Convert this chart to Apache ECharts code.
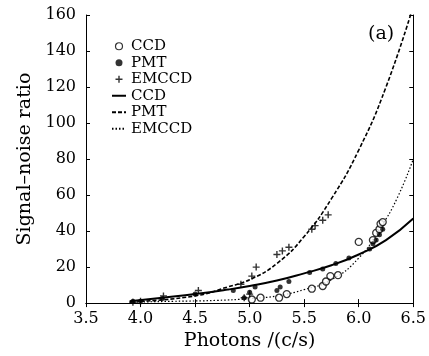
<!DOCTYPE html>
<html>
<head>
<meta charset="utf-8">
<script src="https://cdn.jsdelivr.net/npm/echarts@6/dist/echarts.min.js"></script>
<style>
  html, body { margin: 0; padding: 0; background: #fff; }
  #chart { width: 429px; height: 356px; }
</style>
</head>
<body>
<div id="chart"></div>
<script>
// measured points, [photons, snr]
var ccdPts = [[5.02, 2], [5.1, 3], [5.27, 3], [5.34, 5], [5.57, 8], [5.67, 9.5], [5.7, 12],
  [5.74, 15], [5.81, 15.5], [6.0, 34], [6.13, 35], [6.16, 39], [6.19, 41], [6.2, 44], [6.22, 45]];
var pmtPts = [[3.93, 1], [4.0, 1], [4.2, 2.5], [4.5, 5], [4.85, 7], [4.95, 3], [5.0, 6], [5.05, 9],
  [5.25, 7], [5.28, 9], [5.36, 12], [5.55, 17], [5.67, 19], [5.79, 22], [5.91, 25],
  [6.1, 30], [6.13, 33], [6.16, 35], [6.19, 38], [6.22, 41]];
var emccdPts = [[3.93, 0.5], [4.0, 1], [4.21, 4], [4.53, 7], [4.92, 10.5], [4.95, 3], [5.0, 5],
  [5.02, 15], [5.06, 20], [5.25, 27], [5.3, 29], [5.36, 31], [5.57, 41], [5.6, 43],
  [5.67, 46], [5.72, 49]];

// fitted curves
var ccdFit = [[3.9, 1], [4.2, 3], [4.5, 5], [4.8, 7.5], [5.0, 9.5], [5.25, 12.5], [5.5, 16.5],
  [5.75, 21], [6.0, 27], [6.25, 35], [6.5, 47]];
var pmtFit = [[4.0, 1], [4.5, 4], [4.8, 9], [5.0, 13], [5.25, 22], [5.5, 37], [5.75, 58],
  [6.0, 85], [6.25, 120], [6.5, 165]];
var emccdFit = [[3.9, 0.5], [4.3, 1], [4.7, 1.5], [5.0, 2.5], [5.25, 4], [5.5, 7.5], [5.75, 13],
  [6.0, 25], [6.2, 42], [6.35, 58], [6.5, 80]];

var xTicks = [3.5, 6.5, 0.5];
var yTicks = [0, 160, 20];

var FONT = 'DejaVu Serif';
var plusPath = 'path://M4,0H6V4H10V6H6V10H4V6H0V4H4Z';

var chart = echarts.init(document.getElementById('chart'));

function frameAxis(pos, isX) {
  return {
    type: 'value',
    position: pos,
    min: isX ? xTicks[0] : yTicks[0],
    max: isX ? xTicks[1] : yTicks[1],
    interval: isX ? xTicks[2] : yTicks[2],
    axisLine: { show: true, lineStyle: { color: '#000', width: 1 } },
    axisTick: { show: true, inside: true, length: 4, lineStyle: { color: '#000' } },
    splitLine: { show: false },
    axisLabel: { show: false }
  };
}

var xMain = frameAxis('bottom', true);
xMain.axisLabel = { show: true, fontFamily: FONT, fontSize: 16, color: '#000', margin: 8,
  formatter: function (v) { return v.toFixed(1); } };
xMain.name = 'Photons /(c/s)';
xMain.nameLocation = 'middle';
xMain.nameGap = 28;
xMain.nameTextStyle = { fontFamily: FONT, fontSize: 19, color: '#000' };

var yMain = frameAxis('left', false);
yMain.axisLabel = { show: true, fontFamily: FONT, fontSize: 16, color: '#000', margin: 10 };
yMain.name = 'Signal–noise ratio';
yMain.nameLocation = 'middle';
yMain.nameGap = 51;
yMain.nameTextStyle = { fontFamily: FONT, fontSize: 19, color: '#000' };

var xTop = frameAxis('top', true);
var yRight = frameAxis('right', false);

var hideSym = { opacity: 0 };

chart.setOption({
  animation: false,
  backgroundColor: '#fff',
  grid: { left: 86, right: 6, top: 15, bottom: 52 },
  xAxis: [xMain, xTop],
  yAxis: [yMain, yRight],
  legend: {
    orient: 'vertical',
    left: 106,
    top: 33,
    itemGap: 0,
    itemWidth: 14,
    itemHeight: 7,
    symbolKeepAspect: true,
    textStyle: { fontFamily: FONT, fontSize: 15, color: '#000', lineHeight: 16.5 },
    data: [
      { name: 'CCD', itemStyle: { color: '#fff', borderColor: '#000', borderWidth: 1.2 } },
      { name: 'PMT' },
      { name: 'EMCCD' },
      { name: 'CCD ', itemStyle: hideSym },
      { name: 'PMT ', itemStyle: hideSym },
      { name: 'EMCCD ', itemStyle: hideSym }
    ]
  },
  graphic: [{
    type: 'text', left: 368, top: 25,
    style: { text: '(a)', fontFamily: FONT, fontSize: 19, fill: '#000' }
  }],
  series: [
    { name: 'CCD', type: 'scatter', data: ccdPts, symbol: 'circle', symbolSize: 7,
      itemStyle: { color: '#fff', borderColor: '#000', borderWidth: 1.3 }, z: 3 },
    { name: 'PMT', type: 'scatter', data: pmtPts, symbol: 'circle', symbolSize: 5,
      itemStyle: { color: '#000' }, z: 3 },
    { name: 'EMCCD', type: 'scatter', data: emccdPts, symbol: plusPath, symbolSize: 7,
      itemStyle: { color: '#000' }, z: 3 },
    { name: 'CCD ', type: 'line', data: ccdFit, smooth: true, showSymbol: false, symbol: 'none',
      color: '#000', itemStyle: { color: '#000' },
      lineStyle: { color: '#000', width: 2, type: 'solid' } },
    { name: 'PMT ', type: 'line', data: pmtFit, smooth: true, showSymbol: false, symbol: 'none',
      color: '#000', itemStyle: { color: '#000' },
      lineStyle: { color: '#000', width: 1.6, type: [4, 2] } },
    { name: 'EMCCD ', type: 'line', data: emccdFit, smooth: true, showSymbol: false, symbol: 'none',
      color: '#000', itemStyle: { color: '#000' },
      lineStyle: { color: '#000', width: 1.2, type: [1.5, 2] } }
  ]
});
</script>
</body>
</html>
